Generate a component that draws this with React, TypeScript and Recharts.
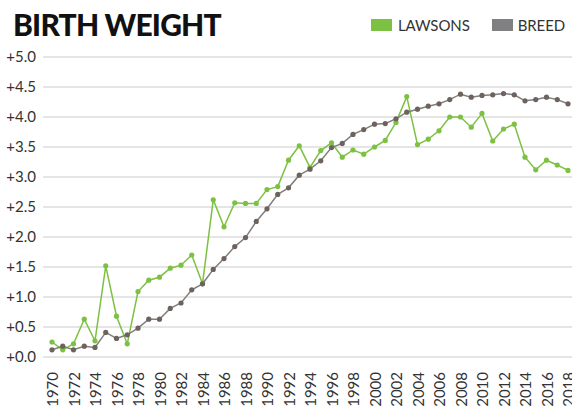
import { LineChart, Line, XAxis, YAxis, CartesianGrid } from 'recharts';

// year categories
const years = [
  1970, 1971, 1972, 1973, 1974, 1975, 1976, 1977, 1978, 1979,
  1980, 1981, 1982, 1983, 1984, 1985, 1986, 1987, 1988, 1989,
  1990, 1991, 1992, 1993, 1994, 1995, 1996, 1997, 1998, 1999,
  2000, 2001, 2002, 2003, 2004, 2005, 2006, 2007, 2008, 2009,
  2010, 2011, 2012, 2013, 2014, 2015, 2016, 2017, 2018,
];

const lawsons = [
  0.25, 0.12, 0.22, 0.63, 0.27, 1.52, 0.68, 0.22, 1.09, 1.28,
  1.33, 1.48, 1.53, 1.70, 1.22, 2.62, 2.17, 2.57, 2.56, 2.56,
  2.79, 2.84, 3.28, 3.52, 3.16, 3.44, 3.57, 3.33, 3.45, 3.38,
  3.50, 3.61, 3.91, 4.34, 3.54, 3.63, 3.77, 4.00, 4.00, 3.83,
  4.06, 3.60, 3.80, 3.88, 3.33, 3.12, 3.28, 3.20, 3.11,
];

const breed = [
  0.12, 0.18, 0.12, 0.18, 0.16, 0.41, 0.31, 0.37, 0.48, 0.63,
  0.63, 0.81, 0.90, 1.12, 1.22, 1.46, 1.64, 1.84, 1.99, 2.26,
  2.47, 2.71, 2.82, 3.03, 3.13, 3.27, 3.49, 3.56, 3.71, 3.79,
  3.88, 3.89, 3.97, 4.08, 4.13, 4.18, 4.22, 4.29, 4.38, 4.33,
  4.36, 4.37, 4.39, 4.37, 4.27, 4.29, 4.33, 4.29, 4.22,
];

const yTicks = [0, 0.5, 1, 1.5, 2, 2.5, 3, 3.5, 4, 4.5, 5];

const GREEN = '#7dc142';
const GREY = '#7f7f7f';
const GREY_DOT = '#6e625d';
const FONT = 'Lato, "Open Sans", sans-serif';

const data = years.map((y, i) => ({ year: y, lawsons: lawsons[i], breed: breed[i] }));

function YearTick(props: any) {
  const { x, y, payload } = props;
  return (
    <text
      x={x}
      y={y}
      transform={`rotate(-90, ${x}, ${y})`}
      textAnchor="end"
      dominantBaseline="central"
      fontSize={15}
      fill="#333"
      fontFamily={FONT}
    >
      {payload.value}
    </text>
  );
}

export default function App() {
  return (
    <div style={{ position: 'absolute', left: 0, top: 0, width: 572, height: 409, background: '#fff', fontFamily: FONT }}>
      <div style={{ position: 'absolute', left: 13, top: 6, fontSize: 30, fontWeight: 900, color: '#111', letterSpacing: -0.8 }}>
        BIRTH WEIGHT
      </div>
      <div style={{ position: 'absolute', left: 371, top: 16, display: 'flex', alignItems: 'center', fontSize: 15, color: '#333', letterSpacing: -0.1 }}>
        <div style={{ width: 21, height: 12, background: GREEN, marginRight: 6 }} />
        <span>LAWSONS</span>
        <div style={{ width: 21, height: 12, background: '#808083', marginLeft: 22, marginRight: 5 }} />
        <span>BREED</span>
      </div>
      <LineChart width={572} height={409} data={data} margin={{ top: 57, right: 0, left: 0, bottom: 0 }}>
        <CartesianGrid vertical={false} stroke="#dcdcdc" strokeWidth={1.5} />
        <XAxis
          dataKey="year"
          interval={1}
          axisLine={false}
          tickLine={false}
          tickSize={0}
          tickMargin={15}
          height={52}
          padding={{ left: 9, right: 4 }}
          tick={<YearTick />}
        />
        <YAxis
          domain={[0, 5]}
          ticks={yTicks}
          width={43}
          axisLine={false}
          tickLine={false}
          tickSize={0}
          tickMargin={7}
          tickFormatter={(v: number) => '+' + v.toFixed(1)}
          tick={{ fontSize: 15, fill: '#333', fontFamily: FONT }}
        />
        <Line
          dataKey="lawsons"
          stroke={GREEN}
          strokeWidth={1.5}
          dot={{ r: 2.6, fill: GREEN, stroke: GREEN, strokeWidth: 0 }}
          isAnimationActive={false}
        />
        <Line
          dataKey="breed"
          stroke={GREY}
          strokeWidth={1.5}
          dot={{ r: 2.6, fill: GREY_DOT, stroke: GREY_DOT, strokeWidth: 0 }}
          isAnimationActive={false}
        />
      </LineChart>
    </div>
  );
}
